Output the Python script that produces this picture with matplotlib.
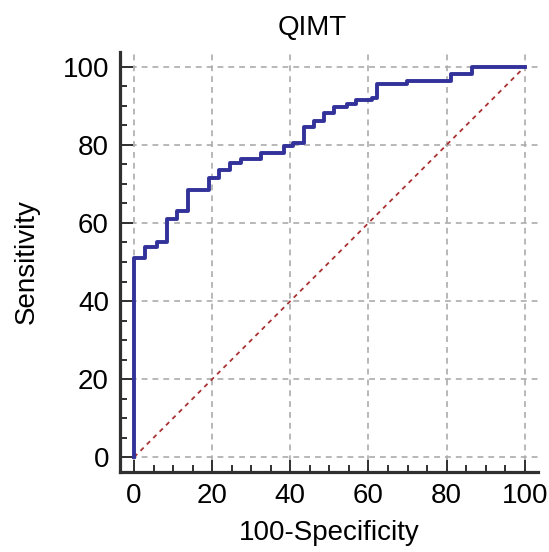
import matplotlib.pyplot as plt
from matplotlib.ticker import MultipleLocator

plt.rcParams['font.family'] = ['Liberation Sans', 'DejaVu Sans']

# ROC curve points (100-Specificity, Sensitivity)
fpr = [0, 0, 2.9, 5.9, 8.4, 11.0, 13.7, 19.2, 21.7, 24.5, 27.3, 32.6, 38.3, 40.6,
       43.4, 46.0, 48.5, 51.2, 54.6, 56.7, 60.8, 62.1, 69.9, 81.1, 86.4, 100]
tpr = [0, 51.0, 53.8, 55.0, 61.0, 63.0, 68.5, 71.5, 73.6, 75.3, 76.4, 77.9, 79.6, 80.4,
       84.7, 86.0, 88.3, 89.6, 90.5, 91.4, 92.0, 95.5, 96.4, 98.2, 100, 100]
diag = [0, 100]
ticks = [0, 20, 40, 60, 80, 100]

fig = plt.figure(figsize=(5.49, 5.52), dpi=100)
ax = fig.add_axes([0.2186, 0.1449, 0.7614, 0.7609])

ax.plot(diag, diag, color='#a83232', linestyle=(0, (2.5, 2.5)), linewidth=1.3, zorder=2)
ax.plot(fpr, tpr, drawstyle='steps-post', color='#32329a', linewidth=2.8, zorder=3)

ax.set_xlim(-3.6, 103.4)
ax.set_ylim(-3.8, 103.8)
ax.set_xticks(ticks)
ax.set_yticks(ticks)
ax.xaxis.set_minor_locator(MultipleLocator(5))
ax.yaxis.set_minor_locator(MultipleLocator(5))
ax.grid(True, which='major', color='#ababab', linestyle=(0, (3.5, 3)), linewidth=1.2, zorder=1)

for side in ['top', 'right']:
    ax.spines[side].set_visible(False)
for side in ['left', 'bottom']:
    ax.spines[side].set_linewidth(2.3)
    ax.spines[side].set_color('#303030')

ax.tick_params(which='major', direction='in', length=9, width=1.4, color='#303030',
               labelsize=20, pad=8)
ax.tick_params(which='minor', direction='in', length=5, width=1.4, color='#303030')

ax.set_xlabel('100-Specificity', fontsize=20, labelpad=8)
ax.set_ylabel('Sensitivity', fontsize=20, labelpad=16)
ax.set_title('QIMT', fontsize=20, x=0.46, pad=12)

plt.savefig('out.png', dpi=100)
